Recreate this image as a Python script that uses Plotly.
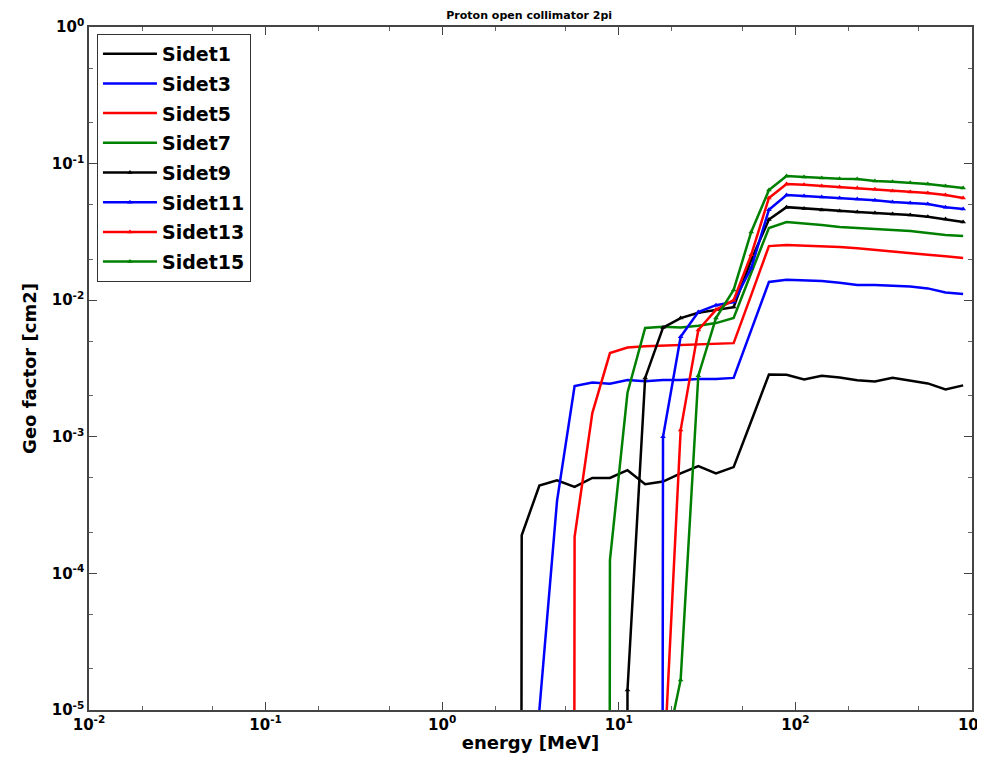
import plotly.graph_objects as go

# Energy grid [MeV] (log-spaced)
energy = [2.24, 2.82, 3.55, 4.47, 5.62, 7.08, 8.91, 11.2, 14.1, 17.8, 22.4, 28.2, 35.5,
          44.7, 56.2, 70.8, 89.1, 112, 141, 178, 224, 282, 355, 447, 562, 708, 891]

# Geometric factors [cm2]; 0 means below the visible range
sidet1 = [0, 1.9e-4, 4.4e-4, 4.8e-4, 4.3e-4, 5.0e-4, 5.0e-4, 5.7e-4, 4.5e-4, 4.7e-4, 5.4e-4,
          6.1e-4, 5.4e-4, 6.0e-4, 1.3e-3, 2.86e-3, 2.85e-3, 2.63e-3, 2.8e-3, 2.72e-3, 2.59e-3,
          2.54e-3, 2.7e-3, 2.59e-3, 2.46e-3, 2.22e-3, 2.38e-3]
sidet3 = [0, 0, 1.0e-5, 3.4e-4, 2.35e-3, 2.5e-3, 2.45e-3, 2.6e-3, 2.55e-3, 2.6e-3, 2.6e-3,
          2.65e-3, 2.65e-3, 2.7e-3, 6.0e-3, 1.36e-2, 1.41e-2, 1.40e-2, 1.38e-2, 1.34e-2, 1.29e-2,
          1.29e-2, 1.28e-2, 1.26e-2, 1.22e-2, 1.14e-2, 1.11e-2]
sidet5 = [0, 0, 0, 0, 1.85e-4, 1.49e-3, 4.1e-3, 4.5e-3, 4.6e-3, 4.65e-3, 4.7e-3, 4.75e-3,
          4.8e-3, 4.85e-3, 1.09e-2, 2.49e-2, 2.54e-2, 2.52e-2, 2.48e-2, 2.45e-2, 2.4e-2,
          2.33e-2, 2.28e-2, 2.2e-2, 2.15e-2, 2.1e-2, 2.04e-2]
sidet7 = [0, 0, 0, 0, 0, 0, 1.25e-4, 2.1e-3, 6.26e-3, 6.4e-3, 6.3e-3, 6.5e-3, 6.8e-3, 7.4e-3,
          1.58e-2, 3.38e-2, 3.74e-2, 3.65e-2, 3.55e-2, 3.43e-2, 3.38e-2, 3.3e-2, 3.25e-2,
          3.21e-2, 3.1e-2, 3.0e-2, 2.95e-2]
sidet9 = [0, 0, 0, 0, 0, 0, 0, 1.4e-5, 2.7e-3, 6.3e-3, 7.4e-3, 8.1e-3, 8.5e-3, 8.9e-3,
          1.97e-2, 3.9e-2, 4.8e-2, 4.7e-2, 4.57e-2, 4.5e-2, 4.42e-2, 4.35e-2, 4.28e-2, 4.2e-2,
          4.08e-2, 3.93e-2, 3.74e-2]
sidet11 = [0, 0, 0, 0, 0, 0, 0, 0, 0, 1.0e-3, 5.4e-3, 8.2e-3, 9.2e-3, 9.7e-3, 1.72e-2,
           4.6e-2, 5.89e-2, 5.8e-2, 5.7e-2, 5.6e-2, 5.5e-2, 5.4e-2, 5.24e-2, 5.15e-2, 5.07e-2,
           4.8e-2, 4.65e-2]
sidet13 = [0, 0, 0, 0, 0, 0, 0, 0, 0, 2.8e-6, 1.12e-3, 6.05e-3, 8.5e-3, 1.0e-2, 2.15e-2,
           5.6e-2, 7.1e-2, 7.0e-2, 6.86e-2, 6.75e-2, 6.63e-2, 6.5e-2, 6.3e-2, 6.2e-2, 6.1e-2,
           5.9e-2, 5.6e-2]
sidet15 = [0, 0, 0, 0, 0, 0, 0, 0, 0, 4e-6, 1.66e-5, 2.8e-3, 7.4e-3, 1.19e-2, 3.16e-2,
           6.4e-2, 8.1e-2, 7.98e-2, 7.85e-2, 7.75e-2, 7.7e-2, 7.46e-2, 7.35e-2, 7.23e-2, 7.1e-2,
           6.86e-2, 6.63e-2]

# Tick labels
x_ticks = [1e-2, 1e-1, 1e0, 1e1, 1e2, 1e3]
x_ticktext = ["10<sup>-2</sup>", "10<sup>-1</sup>", "10<sup>0</sup>",
              "10<sup>1</sup>", "10<sup>2</sup>", "10<sup>3</sup>"]
y_ticks = [1e-5, 1e-4, 1e-3, 1e-2, 1e-1, 1e0]
y_ticktext = ["10<sup>-5</sup>", "10<sup>-4</sup>", "10<sup>-3</sup>",
              "10<sup>-2</sup>", "10<sup>-1</sup>", "10<sup>0</sup>"]

series = [
    ("Sidet1", sidet1, "#000000", False),
    ("Sidet3", sidet3, "#0000ff", False),
    ("Sidet5", sidet5, "#ff0000", False),
    ("Sidet7", sidet7, "#008000", False),
    ("Sidet9", sidet9, "#000000", True),
    ("Sidet11", sidet11, "#0000ff", True),
    ("Sidet13", sidet13, "#ff0000", True),
    ("Sidet15", sidet15, "#008000", True),
]

FONT = "DejaVu Sans"
fig = go.Figure()
for i, (name, vals, color, marked) in enumerate(series):
    # non-positive values are clipped to a tiny number, as a log axis does
    y = [v if v > 0 else 1e-100 for v in vals]
    fig.add_trace(go.Scatter(
        x=energy, y=y, name=name, legendgroup=f"g{i}",
        mode="lines+markers" if marked else "lines",
        line=dict(color=color, width=2.5),
        marker=dict(symbol="triangle-up", size=5, color=color) if marked else None,
    ))

axis_common = dict(
    type="log", showgrid=False, zeroline=False, automargin=False,
    showline=True, linecolor="#444444", linewidth=1.5, mirror="allticks",
    ticks="inside", ticklen=8, tickwidth=1, tickcolor="#444444",
    minor=dict(ticks="inside", ticklen=4, tickcolor="#666666", showgrid=False),
    tickfont=dict(family=FONT, size=15, color="#000000", weight="bold"),
    ticklabeloverflow="allow",
)

# The page body adds an 8px offset; the figure is sized so the plot area
# lands where the reference has it.
fig.update_layout(
    width=985, height=752,
    margin=dict(l=81, r=21, t=19, b=50),
    paper_bgcolor="white", plot_bgcolor="white",
    font=dict(family=FONT, color="#000000"),
    title=dict(text="<b>Proton open collimator 2pi</b>", x=0.4985, xanchor="center",
               xref="paper", y=0.991, yanchor="middle",
               font=dict(family=FONT, size=11, color="#000000")),
    xaxis=dict(axis_common, range=[-2, 3], tickvals=x_ticks, ticktext=x_ticktext,
               title=dict(text="<b>energy [MeV]</b>", standoff=4,
                          font=dict(family=FONT, size=18, color="#000000"))),
    yaxis=dict(axis_common, range=[-5, 0], tickvals=y_ticks, ticktext=y_ticktext,
               title=dict(text="<b>Geo factor [cm2]</b>", standoff=10,
                          font=dict(family=FONT, size=18, color="#000000"))),
    legend=dict(x=0.009, y=0.99, xanchor="left", yanchor="top",
                bgcolor="white", bordercolor="#333333", borderwidth=1,
                font=dict(family=FONT, size=19, color="#000000", weight="bold"),
                tracegroupgap=2, itemwidth=54),
    showlegend=True,
)

fig.write_html("out.html")
